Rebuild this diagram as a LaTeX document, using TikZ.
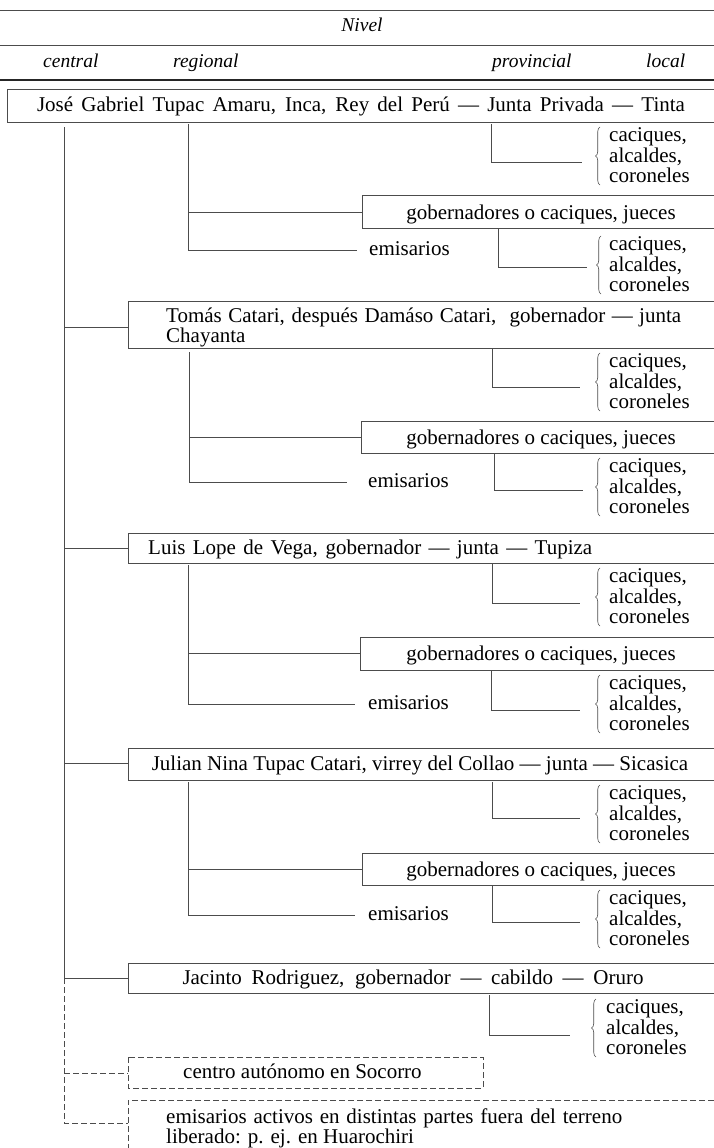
\documentclass[tikz,border=0pt]{standalone}
\usepackage{fontspec}
\setmainfont{Liberation Serif}
\usetikzlibrary{decorations.pathreplacing}
\newcommand\cacg[4]{%
  \node[txt,anchor=base west] (#1a) at (#2,{#3-20.5}) {caciques,};
  \node[txt,anchor=base west] (#1b) at (#2,#3) {alcaldes,};
  \node[txt,anchor=base west] (#1c) at (#2,{#3+20.5}) {coroneles};
  \coordinate (#1t) at (#4,{#3-35});
  \coordinate (#1u) at (#4,{#3+23});
  \draw[brc] (#1u) -- (#1t);}
\begin{document}
\begin{tikzpicture}[x=1pt,y=-1pt,
  ln/.style={draw=black!70,line width=0.6pt},
  dln/.style={ln,dash pattern=on 6pt off 3pt},
  txt/.style={font=\fontsize{21}{21}\selectfont,inner sep=0pt,anchor=base},
  hdr/.style={font=\fontsize{19.5}{20}\selectfont\itshape,inner sep=0pt,anchor=base west},
  brc/.style={ln,decorate,decoration={brace,amplitude=4.5pt}}]
\useasboundingbox (0,0) rectangle (714,1148);

% header
\coordinate (h1l) at (0,10); \coordinate (h1r) at (714,10);
\coordinate (h2l) at (0,45); \coordinate (h2r) at (714,45);
\coordinate (h3l) at (0,80); \coordinate (h3r) at (714,80);
\draw[ln] (h1l) -- (h1r);
\draw[ln] (h2l) -- (h2r);
\draw[draw=black!85,line width=1.8pt] (h3l) -- (h3r);
\node[hdr,anchor=base] (nivel) at (362,32) {Nivel};
\node[hdr] (hc) at (43,67) {central};
\node[hdr] (hr) at (173,67) {regional};
\node[hdr] (hp) at (492,67) {provincial};
\node[hdr] (hl) at (646,67) {local};

% central line
\coordinate (c0) at (64,127);
\coordinate (c5) at (64,978);
\coordinate (c7) at (64,1123);
\draw[ln] (c0) -- (c5);

% ===== Block 1: Jose Gabriel
\draw[ln] (714,89) -- (7,89) -- (7,122) -- (714,122);
\node[txt] (jose) at (361,111) {\makebox[648pt][s]{José Gabriel Tupac Amaru, Inca, Rey del Perú — Junta Privada — Tinta}};
\coordinate (r1t) at (188,124); \coordinate (r1b) at (188,250); \coordinate (e1l) at (357,250);
\draw[ln] (r1t) -- (r1b) -- (e1l);
\node[txt,anchor=base west] (e1) at (369,255) {emisarios};
\coordinate (p1t) at (491,124); \coordinate (p1c) at (491,162); \coordinate (p1e) at (582,162);
\draw[ln] (p1t) -- (p1c) -- (p1e);
\cacg{k1}{609}{162}{600}
\draw[ln] (714,195) -- (362,195) -- (362,228) -- (714,228);
\node[txt] (g1) at (541,219) {gobernadores o caciques, jueces};
\coordinate (r1g) at (188,212); \coordinate (g1w) at (362,212);
\draw[ln] (r1g) -- (g1w);
\coordinate (q1t) at (498,228); \coordinate (q1c) at (498,267); \coordinate (q1e) at (587,267);
\draw[ln] (q1t) -- (q1c) -- (q1e);
\cacg{k2}{609}{271}{601}

% ===== Block 2: Tomas Catari
\draw[ln] (714,301) -- (128,301) -- (128,348) -- (714,348);
\node[txt,anchor=base west] (t2a) at (166,322) {\makebox[515pt][s]{Tomás Catari, después Damáso Catari, \ gobernador — junta}};
\node[txt,anchor=base west] (t2b) at (166,342) {Chayanta};
\coordinate (c2) at (64,327); \coordinate (b2w) at (128,327);
\draw[ln] (c2) -- (b2w);
\coordinate (r2t) at (189,352); \coordinate (r2b) at (189,482); \coordinate (e2l) at (347,482);
\draw[ln] (r2t) -- (r2b) -- (e2l);
\node[txt,anchor=base west] (e2) at (368,487) {emisarios};
\coordinate (p2t) at (492,348); \coordinate (p2c) at (492,387); \coordinate (p2e) at (580,387);
\draw[ln] (p2t) -- (p2c) -- (p2e);
\cacg{k3}{609}{388}{600}
\draw[ln] (714,421) -- (361,421) -- (361,453) -- (714,453);
\node[txt] (g2) at (541,444) {gobernadores o caciques, jueces};
\coordinate (r2g) at (189,437); \coordinate (g2w) at (361,437);
\draw[ln] (r2g) -- (g2w);
\coordinate (q2t) at (494,453); \coordinate (q2c) at (494,490); \coordinate (q2e) at (583,490);
\draw[ln] (q2t) -- (q2c) -- (q2e);
\cacg{k4}{609}{493}{600}

% ===== Block 3: Luis Lope de Vega
\draw[ln] (714,533) -- (128,533) -- (128,563) -- (714,563);
\node[txt,anchor=base west] (t3) at (148,554) {\makebox[444pt][s]{Luis Lope de Vega, gobernador — junta — Tupiza}};
\coordinate (c3) at (64,548); \coordinate (b3w) at (128,548);
\draw[ln] (c3) -- (b3w);
\coordinate (r3t) at (188,565); \coordinate (r3b) at (188,704); \coordinate (e3l) at (355,704);
\draw[ln] (r3t) -- (r3b) -- (e3l);
\node[txt,anchor=base west] (e3) at (368,709) {emisarios};
\coordinate (p3t) at (492,563); \coordinate (p3c) at (492,603); \coordinate (p3e) at (580,603);
\draw[ln] (p3t) -- (p3c) -- (p3e);
\cacg{k5}{609}{603}{600}
\draw[ln] (714,637) -- (360,637) -- (360,670) -- (714,670);
\node[txt] (g3) at (541,660) {gobernadores o caciques, jueces};
\coordinate (r3g) at (188,653); \coordinate (g3w) at (360,653);
\draw[ln] (r3g) -- (g3w);
\coordinate (q3t) at (491,670); \coordinate (q3c) at (491,710); \coordinate (q3e) at (580,710);
\draw[ln] (q3t) -- (q3c) -- (q3e);
\cacg{k6}{609}{710}{600}

% ===== Block 4: Julian Nina Tupac Catari
\draw[ln] (714,748) -- (128,748) -- (128,780) -- (714,780);
\node[txt] (t4) at (420,770) {Julian Nina Tupac Catari, virrey del Collao — junta — Sicasica};
\coordinate (c4) at (64,763); \coordinate (b4w) at (128,763);
\draw[ln] (c4) -- (b4w);
\coordinate (r4t) at (188,782); \coordinate (r4b) at (188,915); \coordinate (e4l) at (355,915);
\draw[ln] (r4t) -- (r4b) -- (e4l);
\node[txt,anchor=base west] (e4) at (368,920) {emisarios};
\coordinate (p4t) at (492,782); \coordinate (p4c) at (492,818); \coordinate (p4e) at (580,818);
\draw[ln] (p4t) -- (p4c) -- (p4e);
\cacg{k7}{609}{820}{600}
\draw[ln] (714,853) -- (362,853) -- (362,885) -- (714,885);
\node[txt] (g4) at (541,876) {gobernadores o caciques, jueces};
\coordinate (r4g) at (188,869); \coordinate (g4w) at (362,869);
\draw[ln] (r4g) -- (g4w);
\coordinate (q4t) at (492,885); \coordinate (q4c) at (492,922); \coordinate (q4e) at (580,922);
\draw[ln] (q4t) -- (q4c) -- (q4e);
\cacg{k8}{609}{925}{600}

% ===== Block 5: Jacinto Rodriguez
\draw[ln] (714,963) -- (128,963) -- (128,993) -- (714,993);
\node[txt] (t5) at (413,984) {\makebox[461pt][s]{Jacinto Rodriguez, gobernador — cabildo — Oruro}};
\coordinate (b5w) at (128,978);
\draw[ln] (c5) -- (b5w);
\coordinate (p5t) at (489,995); \coordinate (p5c) at (489,1035); \coordinate (p5e) at (570,1035);
\draw[ln] (p5t) -- (p5c) -- (p5e);
\cacg{k9}{606}{1034}{596}

% ===== Socorro
\coordinate (s1) at (128,1057); \coordinate (s2) at (483,1088);
\draw[dln] (s1) rectangle (s2);
\node[txt,anchor=base west] (t6) at (183,1078) {centro autónomo en Socorro};
\coordinate (c6) at (64,1073); \coordinate (b6w) at (128,1073);
\draw[dln] (c6) -- (b6w);

% ===== emisarios activos
\coordinate (x1) at (714,1100); \coordinate (x2) at (128,1100); \coordinate (x3) at (128,1148);
\draw[dln] (x1) -- (x2) -- (x3);
\node[txt,anchor=base west] (t7a) at (166,1123) {\makebox[456pt][s]{emisarios activos en distintas partes fuera del terreno}};
\node[txt,anchor=base west] (t7b) at (166,1143) {liberado: p. ej. en Huarochiri};
\coordinate (b7w) at (128,1123);
\draw[dln] (c5) -- (c7) -- (b7w);
\end{tikzpicture}
\end{document}
